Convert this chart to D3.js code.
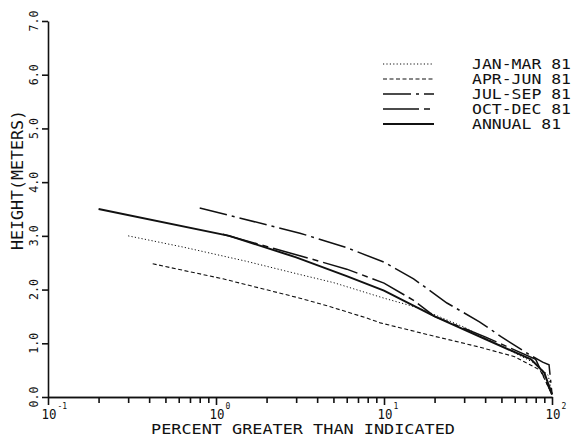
<!DOCTYPE html>
<html><head><meta charset="utf-8">
<script src="https://cdn.jsdelivr.net/npm/d3@7"></script>
<style>
html,body{margin:0;padding:0;background:#fff;}
svg{display:block;}
text{font-family:"DejaVu Sans Mono","Liberation Mono",monospace;fill:#111;}
</style></head>
<body>
<svg id="c" width="573" height="438"></svg>
<script>
// ---- data ----
const seriesNames = ["JAN-MAR 81","APR-JUN 81","JUL-SEP 81","OCT-DEC 81","ANNUAL 81"];
const janMarP = [0.3,0.64,1.5,3.16,5,10,16,30,50,80,95,100];
const janMarH = [3.0,2.79,2.53,2.28,2.13,1.84,1.66,1.3,0.95,0.62,0.4,0.05];
const aprJunP = [0.42,1.1,3.16,4.8,7.9,9.5,20,37,60,85,100];
const aprJunH = [2.48,2.2,1.84,1.68,1.47,1.38,1.13,0.93,0.75,0.5,0.05];
const julSepP = [0.8,3.16,6,10,15,23.7,37,50,74,88,96,100];
const julSepH = [3.52,3.05,2.78,2.51,2.2,1.75,1.4,1.12,0.78,0.65,0.6,0.05];
const octDecP = [1.1,3,6,10,15,20,40,80,100];
const octDecH = [3.03,2.65,2.38,2.12,1.8,1.5,1.12,0.7,0.05];
const annualP = [0.2,1.2,3,6,10,20,40,75,90,100];
const annualH = [3.5,3.0,2.6,2.25,1.98,1.5,1.08,0.7,0.45,0.05];
const yTicks = [0,1,2,3,4,5,6,7];
const yTickLabels = ["0.0","1.0","2.0","3.0","4.0","5.0","6.0","7.0"];
const xMajor = [0.1,1,10,100];
const xMajorExp = ["-1","0","1","2"];
const xTitle = "PERCENT GREATER THAN INDICATED";
const yTitle = "HEIGHT(METERS)";

// ---- styles ----
const styles = [
  {dash:"1.2,2.2", w:1.0},
  {dash:"4,2.5", w:1.1},
  {dash:"28,5,3,5", w:1.5},
  {dash:"36,5,6,5", w:1.5},
  {dash:null, w:2.0}
];
const seriesP = [janMarP,aprJunP,julSepP,octDecP,annualP];
const seriesH = [janMarH,aprJunH,julSepH,octDecH,annualH];

const svg = d3.select("#c");
const x = d3.scaleLog().domain([0.1,100]).range([48,552]);
const y = d3.scaleLinear().domain([0,7]).range([397,21]);

// minor x ticks
const minor = [];
for (let d of [0.1,1,10]) for (let k=2;k<=9;k++) minor.push(d*k);
const gMinor = svg.append("g").attr("transform","translate(0,397)")
  .call(d3.axisBottom(x).tickValues(minor).tickSize(6).tickSizeOuter(0).tickFormat(""));
const gMajor = svg.append("g").attr("transform","translate(0,397)")
  .call(d3.axisBottom(x).tickValues(xMajor).tickSize(8).tickSizeOuter(0).tickFormat(""));
const gY = svg.append("g").attr("transform","translate(48,0)")
  .call(d3.axisLeft(y).tickValues(yTicks).tickSize(6).tickSizeOuter(0).tickFormat(""));
[gMinor,gMajor,gY].forEach(g=>{
  g.selectAll("path").attr("stroke","#111").attr("stroke-width",1.6);
  g.selectAll("line").attr("stroke","#111").attr("stroke-width",1.6);
});

// y tick labels (rotated)
yTicks.forEach((v,i)=>{
  svg.append("text")
    .attr("transform",`translate(38,${y(v)}) rotate(-90)`)
    .attr("text-anchor","middle")
    .attr("font-size",13)
    .attr("textLength",21).attr("lengthAdjust","spacingAndGlyphs")
    .text(yTickLabels[i]);
});
// x tick labels 10^n
xMajor.forEach((v,i)=>{
  const px = x(v);
  svg.append("text").attr("x",px+1).attr("y",419).attr("text-anchor","middle")
    .attr("font-size",13.5).attr("textLength",15).attr("lengthAdjust","spacingAndGlyphs").text("10");
  svg.append("text").attr("x",px+9.5).attr("y",409).attr("font-size",8).text(xMajorExp[i]);
});
// axis titles
svg.append("text").attr("x",303).attr("y",434).attr("text-anchor","middle")
  .attr("font-size",14).attr("textLength",304).attr("lengthAdjust","spacingAndGlyphs").text(xTitle);
svg.append("text").attr("transform","translate(23,180) rotate(-90)").attr("text-anchor","middle")
  .attr("font-size",16).attr("textLength",140).attr("lengthAdjust","spacingAndGlyphs").text(yTitle);

// lines
const line = d3.line().x(d=>x(d[0])).y(d=>y(d[1]));
seriesP.forEach((ps,i)=>{
  const pts = ps.map((p,j)=>[p,seriesH[i][j]]);
  svg.append("path").datum(pts).attr("d",line).attr("fill","none")
    .attr("stroke","#111").attr("stroke-width",styles[i].w)
    .attr("stroke-dasharray",styles[i].dash);
});

// legend
const legY = [64,79,94,109,124];
seriesNames.forEach((n,i)=>{
  svg.append("line").attr("x1",383).attr("x2",434).attr("y1",legY[i]).attr("y2",legY[i])
    .attr("stroke","#111").attr("stroke-width",styles[i].w).attr("stroke-dasharray",styles[i].dash);
  svg.append("text").attr("x",472).attr("y",legY[i]+5).attr("font-size",14)
    .attr("textLength",n.length*9.9).attr("lengthAdjust","spacingAndGlyphs").text(n);
});
</script>
</body></html>
